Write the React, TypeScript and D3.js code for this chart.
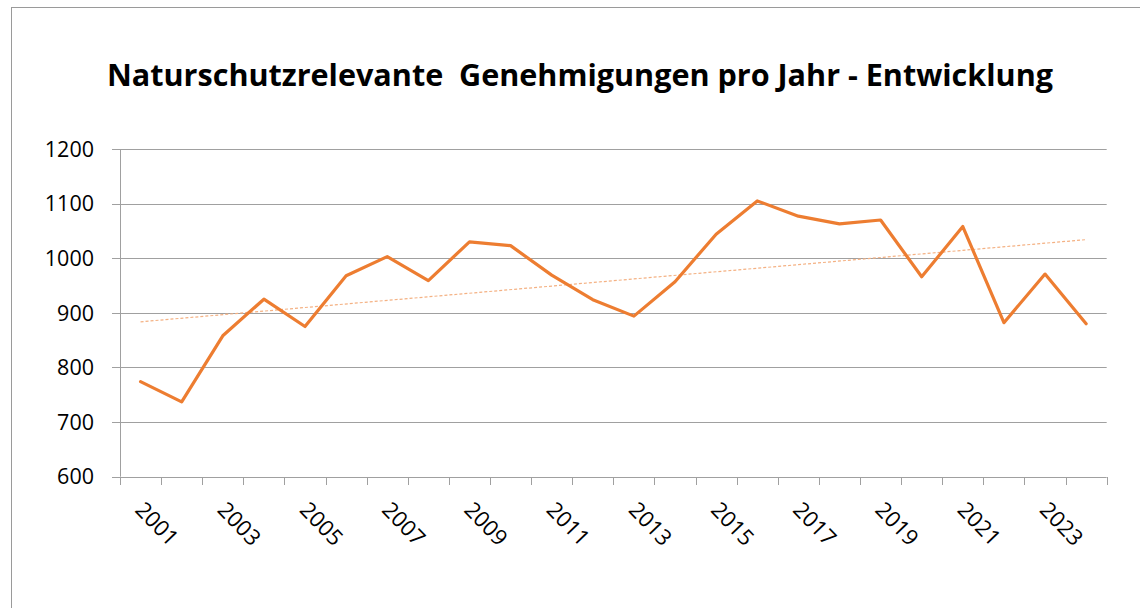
import React, { useEffect, useRef } from "react";
import * as d3 from "d3";

const years: string[] = [
  "2001","2002","2003","2004","2005","2006","2007","2008","2009","2010","2011","2012",
  "2013","2014","2015","2016","2017","2018","2019","2020","2021","2022","2023","2024",
];
const values: number[] = [
  774, 737, 858, 925, 875, 968, 1003, 959, 1030, 1023, 969, 924,
  894, 957, 1044, 1105, 1077, 1063, 1070, 966, 1058, 882, 971, 880,
];
const yTicks: number[] = [600, 700, 800, 900, 1000, 1100, 1200];
const titleText = "Naturschutzrelevante  Genehmigungen pro Jahr - Entwicklung";

const W = 1140;
const H = 608;
const M = { left: 120, right: 1106.7, top: 149, bottom: 476.7 };
const FONT = "'Open Sans', 'Noto Sans', sans-serif";

export default function App() {
  const ref = useRef<SVGSVGElement | null>(null);

  useEffect(() => {
    const svg = d3.select(ref.current);
    svg.selectAll("*").remove();

    const x = d3.scaleBand<string>().domain(years).range([M.left, M.right]).padding(0);
    const y = d3.scaleLinear().domain([600, 1200]).range([M.bottom, M.top]);
    const cx = (d: string) => (x(d) as number) + x.bandwidth() / 2;

    // outer border
    svg.append("rect")
      .attr("x", 11.5).attr("y", 7.5).attr("width", W).attr("height", H)
      .attr("fill", "#fff").attr("stroke", "#9a9a9a").attr("stroke-width", 1);

    // title
    svg.append("text")
      .attr("x", 580).attr("y", 86)
      .attr("text-anchor", "middle")
      .attr("font-family", FONT)
      .attr("font-weight", "bold")
      .attr("font-size", 30)
      .attr("textLength", 946)
      .attr("lengthAdjust", "spacingAndGlyphs")
      .style("white-space", "pre")
      .attr("fill", "#000")
      .text(titleText);

    // gridlines
    svg.append("g").selectAll("line")
      .data(yTicks)
      .join("line")
      .attr("x1", M.left - 8).attr("x2", M.right)
      .attr("y1", (d) => Math.round(y(d)) + 0.5).attr("y2", (d) => Math.round(y(d)) + 0.5)
      .attr("stroke", "#a0a0a0").attr("stroke-width", 1);

    // y axis line
    svg.append("line")
      .attr("x1", M.left + 0.5).attr("x2", M.left + 0.5)
      .attr("y1", M.top).attr("y2", M.bottom)
      .attr("stroke", "#a0a0a0");

    // y labels
    svg.append("g").selectAll("text")
      .data(yTicks)
      .join("text")
      .attr("x", 94).attr("y", (d) => y(d))
      .attr("dy", "0.36em")
      .attr("text-anchor", "end")
      .attr("font-family", FONT)
      .attr("font-size", 21.5)
      .attr("fill", "#000")
      .text((d) => String(d));

    // x ticks
    const tickPos = years.map((d) => x(d) as number).concat([M.right]);
    svg.append("g").selectAll("line")
      .data(tickPos)
      .join("line")
      .attr("x1", (d) => Math.round(d) + 0.5).attr("x2", (d) => Math.round(d) + 0.5)
      .attr("y1", Math.round(M.bottom)).attr("y2", Math.round(M.bottom) + 8)
      .attr("stroke", "#a0a0a0");

    // x labels
    svg.append("g").selectAll("text")
      .data(years.filter((_, i) => i % 2 === 0))
      .join("text")
      .attr("transform", (d) => `translate(${cx(d) - 6.5},${511}) rotate(46)`)
      .attr("text-anchor", "start")
      .attr("font-family", FONT)
      .attr("font-size", 22)
      .attr("fill", "#000")
      .text((d) => d);

    // trend line (least squares)
    const idx = values.map((_, i) => i + 1);
    const mx = d3.mean(idx) as number;
    const my = d3.mean(values) as number;
    const slope =
      (d3.sum(idx, (xi, i) => (xi - mx) * (values[i] - my)) as number) /
      (d3.sum(idx, (xi) => (xi - mx) * (xi - mx)) as number);
    const intercept = my - slope * mx;
    const first = years[0];
    const last = years[years.length - 1];
    svg.append("line")
      .attr("x1", cx(first)).attr("y1", y(intercept + slope * 1))
      .attr("x2", cx(last)).attr("y2", y(intercept + slope * years.length))
      .attr("stroke", "#f4b183")
      .attr("stroke-width", 1.2)
      .attr("stroke-dasharray", "3,2");

    // data line
    const line = d3.line<number>()
      .x((_, i) => cx(years[i]))
      .y((d) => y(d));
    svg.append("path")
      .datum(values)
      .attr("d", line)
      .attr("fill", "none")
      .attr("stroke", "#ed7d31")
      .attr("stroke-width", 3.2)
      .attr("stroke-linejoin", "round")
      .attr("stroke-linecap", "round");
  }, []);

  return (
    <svg
      ref={ref}
      width={W}
      height={H}
      style={{ position: "absolute", left: 0, top: 0, background: "#fff" }}
    />
  );
}
